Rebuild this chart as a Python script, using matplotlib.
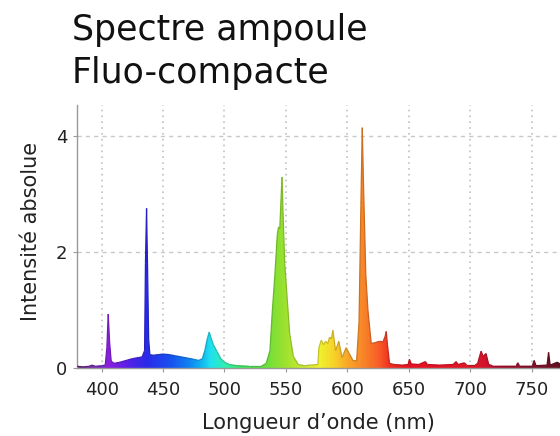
import numpy as np
import matplotlib
matplotlib.use("Agg")
import matplotlib.pyplot as plt
from matplotlib.colors import LinearSegmentedColormap
from matplotlib.patches import PathPatch
from matplotlib.collections import LineCollection

# Spectrum (nm, absolute intensity)
wavelength = [380, 385, 390, 392, 395, 400, 403, 404.3, 405.4, 406.5, 407.8, 410, 415, 420, 425,
              430, 433, 435, 435.7, 436.6, 437.5, 438.3, 439.3, 442, 446, 450, 455, 460, 465, 470,
              475, 479, 482, 484, 486, 487.6, 489, 491, 494, 497, 500, 504, 510, 520, 530,
              534, 537, 539, 541, 543, 544, 545, 546.2, 546.8, 547.6, 549, 551, 553, 556, 560,
              565, 570, 576, 576.8, 578.8, 580.5, 582.3, 584, 585.5, 587, 588.2, 590.4, 593,
              595.7, 599, 601.5, 604.5, 607.5, 609.5, 611, 612.1, 613.3, 615, 616.7, 619.4,
              623, 626.2, 629, 630.8, 631.6, 632.6, 634.3, 638, 645, 649.5, 650.5, 652, 658,
              663.5, 665, 675, 686, 688.5, 690, 695.2, 697, 704, 706, 708.8, 710.5, 712.8,
              715, 718, 725, 737.5, 738.6, 740, 750.5, 752, 753.5, 762.5, 763.7, 765, 770.8, 775]
intensity = [0.03, 0.02, 0.03, 0.05, 0.03, 0.04, 0.05, 0.35, 0.93, 0.45, 0.12, 0.08, 0.10, 0.13, 0.16,
             0.18, 0.19, 0.30, 1.80, 2.75, 1.60, 0.50, 0.23, 0.22, 0.23, 0.24, 0.23, 0.21, 0.19, 0.17,
             0.15, 0.13, 0.16, 0.30, 0.50, 0.62, 0.52, 0.40, 0.28, 0.16, 0.10, 0.06, 0.04, 0.03, 0.03,
             0.08, 0.30, 1.00, 1.60, 2.30, 2.43, 2.40, 3.00, 3.29, 2.70, 1.80, 1.20, 0.60, 0.20, 0.06,
             0.04, 0.05, 0.06, 0.35, 0.48, 0.40, 0.46, 0.42, 0.53, 0.50, 0.65, 0.30, 0.46,
             0.18, 0.35, 0.25, 0.13, 0.12, 0.80, 2.80, 4.14, 3.00, 1.60, 1.00, 0.42,
             0.44, 0.46, 0.45, 0.55, 0.63, 0.40, 0.08, 0.06, 0.05, 0.06, 0.15, 0.07, 0.06,
             0.11, 0.06, 0.05, 0.06, 0.11, 0.06, 0.09, 0.05, 0.05, 0.08, 0.29, 0.20, 0.25,
             0.06, 0.04, 0.04, 0.04, 0.09, 0.04, 0.04, 0.13, 0.04, 0.05, 0.27, 0.05, 0.10, 0.04]

# wavelength -> colour stops
color_nm = [380, 400, 405, 420, 436, 455, 470, 480, 488, 500, 515, 530, 545, 560, 578, 590, 600,
            612, 625, 635, 650, 705, 720, 745, 775]
color_hex = ["#6a2a80", "#7b2cc8", "#8a20e0", "#5a20e8", "#2a2ae8", "#1850f0", "#1080f0", "#10b0f0",
             "#20e0f0", "#30f0b0", "#40e860", "#60e040", "#90e030", "#c0e830", "#f0f030", "#f8d028",
             "#f8a828", "#f88828", "#f86028", "#f03020", "#e81020", "#e01828", "#c01030", "#901030",
             "#601020"]

xticks = [400, 450, 500, 550, 600, 650, 700, 750]
yticks = [0, 2, 4]
xmin, xmax = 380, 773
ymax = 4.53

pos = [(v - 380) / (775 - 380) for v in color_nm]
cmap = LinearSegmentedColormap.from_list("spec", list(zip(pos, color_hex)))

fig = plt.figure(figsize=(5.6, 4.36), dpi=100)
ax = fig.add_axes([77 / 560, 68 / 436, 1 - 77 / 560, (368 - 105) / 436])

# grid
ax.set_axisbelow(True)
ax.xaxis.grid(True, linestyle=(0, (1, 2.5)), color="#c0c0c0", lw=1.2)
ax.yaxis.grid(True, linestyle=(0, (3, 3)), color="#c8c8c8", lw=1.0)

# spectrum filled with a wavelength gradient
poly = ax.fill_between(wavelength, 0, intensity, color="none", lw=0)
patch = PathPatch(poly.get_paths()[0], transform=ax.transData, facecolor="none", edgecolor="none")
ax.add_patch(patch)
grad = np.linspace(380, 775, 800).reshape(1, -1)
im = ax.imshow(grad, extent=[380, 775, 0, ymax], aspect="auto", origin="lower",
               cmap=cmap, vmin=380, vmax=775, zorder=2)
im.set_clip_path(patch)

# slightly darker outline
pts = np.column_stack([wavelength, intensity])
segs = np.stack([pts[:-1], pts[1:]], axis=1)
mids = (np.array(wavelength[:-1]) + np.array(wavelength[1:])) / 2
cols = cmap((mids - 380) / (775 - 380))
cols[:, :3] *= 0.82
ax.add_collection(LineCollection(segs, colors=cols, linewidths=0.9, zorder=3))

ax.set_xlim(xmin, xmax)
ax.set_ylim(0, ymax)
ax.set_xticks(xticks)
ax.set_yticks(yticks)
ax.tick_params(axis="both", length=3, color="#999999", labelsize=13, labelcolor="#222222")
ax.tick_params(axis="x", pad=6)
ax.tick_params(axis="y", pad=4)
for s in ["top", "right"]:
    ax.spines[s].set_visible(False)
for s in ["left", "bottom"]:
    ax.spines[s].set_color("#999999")
    ax.spines[s].set_linewidth(1.0)

fig.text(318 / 560, 1 - 423 / 436, "Longueur d\u2019onde (nm)", ha="center", va="center",
         fontsize=15, color="#222222")
fig.text(31 / 560, 1 - 231 / 436, "Intensité absolue", ha="center", va="center",
         rotation=90, fontsize=15, color="#222222")
fig.text(72 / 560, 1 - 13 / 436, "Spectre ampoule\nFluo-compacte", ha="left", va="top",
         fontsize=25, linespacing=1.33, color="#111111")

fig.savefig("out.png", dpi=100)
